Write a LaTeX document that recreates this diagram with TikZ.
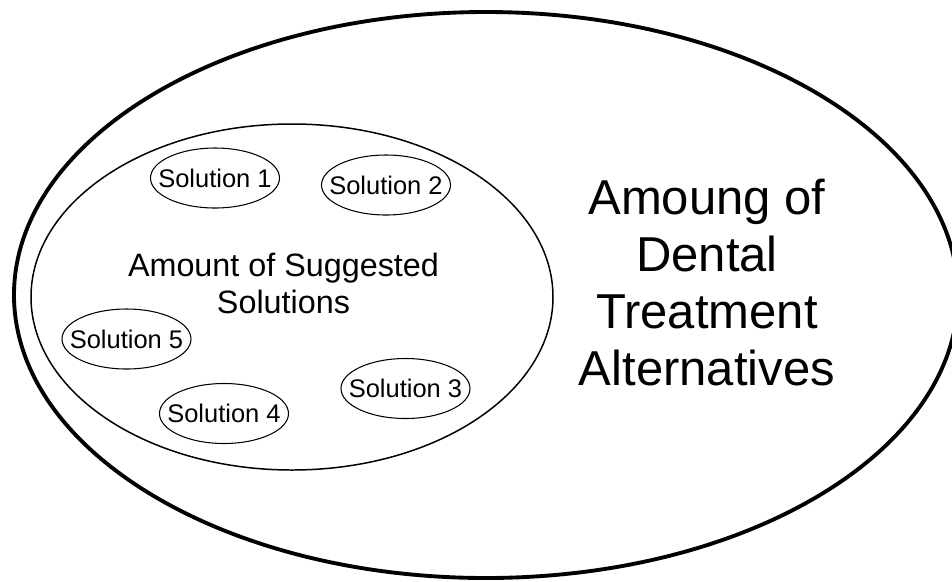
\documentclass[tikz,border=0pt]{standalone}
\usepackage{fontspec}
\setmainfont{Liberation Sans}
\usetikzlibrary{shapes.geometric}

\begin{document}
\begin{tikzpicture}[
    solution/.style={inner sep=0pt, font=\fontsize{14.5}{17}\selectfont},
    region/.style={draw, ellipse, inner sep=0pt}
  ]
    \useasboundingbox (0,0) rectangle (19.04,-11.62);
    % Alternatives
    \node[region, line width=2.2pt, minimum width=18.88cm, minimum height=11.32cm] (alternatives) at (9.72,-5.90) {};
    \node[align=center, font=\fontsize{27.9}{32.4}\selectfont] (altlabel) at (14.14,-5.65)
        {Amoung of\\Dental\\Treatment\\Alternatives};
    % Suggested solutions
    \node[region, line width=0.85pt, minimum width=10.44cm, minimum height=6.92cm] (suggested) at (5.84,-5.94) {};
    \node[align=center, font=\fontsize{18.4}{21.2}\selectfont] (suglabel) at (5.67,-5.67)
        {Amount of Suggested\\Solutions};
    % Solutions
    \node[solution] (sol1) at (4.30,-3.56) {Solution 1};
    \node[solution] (sol2) at (7.72,-3.70) {Solution 2};
    \node[solution] (sol3) at (8.11,-7.77) {Solution 3};
    \node[solution] (sol4) at (4.48,-8.27) {Solution 4};
    \node[solution] (sol5) at (2.53,-6.78) {Solution 5};
    \foreach \s in {sol1,sol2,sol3,sol4,sol5}
        \draw[line width=0.6pt] (\s) ellipse [x radius=1.29cm, y radius=0.6cm];
\end{tikzpicture}
\end{document}
